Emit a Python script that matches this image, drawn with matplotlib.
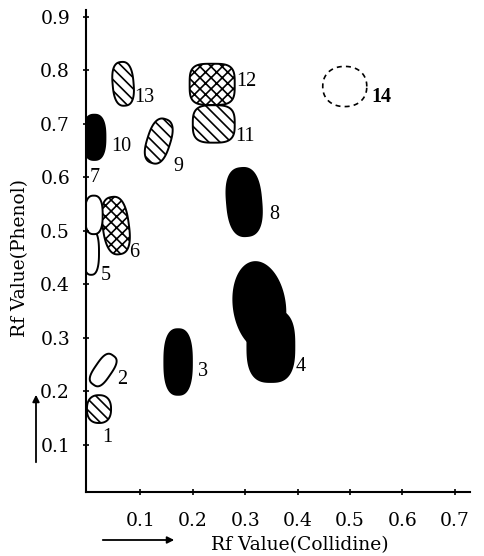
import numpy as np
import matplotlib
matplotlib.use("Agg")
import matplotlib.pyplot as plt
from matplotlib.patches import Polygon, FancyArrowPatch

plt.rcParams['font.family'] = ['DejaVu Serif', 'Liberation Serif']
plt.rcParams['hatch.linewidth'] = 1.2

# ---- data (Rf values) ----
spot_ids = [1, 2, 3, 4, 4, 5, 6, 7, 8, 9, 10, 11, 12, 13, 14]
spot_x = [0.021, 0.029, 0.172, 0.327, 0.349, 0.006, 0.053, 0.011, 0.298, 0.135, 0.012, 0.240, 0.237, 0.067, 0.490]
spot_y = [0.167, 0.240, 0.255, 0.360, 0.285, 0.460, 0.510, 0.530, 0.554, 0.668, 0.675, 0.700, 0.774, 0.775, 0.770]
spot_w = [0.046, 0.032, 0.053, 0.098, 0.090, 0.030, 0.050, 0.034, 0.066, 0.044, 0.043, 0.080, 0.086, 0.040, 0.084]
spot_h = [0.052, 0.066, 0.123, 0.165, 0.135, 0.084, 0.108, 0.072, 0.128, 0.086, 0.085, 0.070, 0.077, 0.082, 0.075]
spot_angle = [0, -35, 0, 8, 0, 0, 8, 0, 5, -18, 0, 0, 0, 5, 0]
spot_shape = [2.4, 3.0, 2.6, 2.0, 2.8, 2.6, 2.6, 2.6, 2.6, 2.6, 2.6, 3.2, 3.6, 2.6, 2.2]
spot_style = ['hatch', 'open', 'solid', 'solid', 'solid', 'open', 'cross', 'open',
              'solid', 'hatch', 'solid', 'hatch', 'cross', 'hatch', 'dashed']

label_text = ['1', '2', '3', '4', '5', '6', '7', '8', '9', '10', '11', '12', '13', '14']
label_x = [0.036, 0.066, 0.220, 0.406, 0.034, 0.088, 0.013, 0.356, 0.172, 0.064, 0.300, 0.302, 0.108, 0.560]
label_y = [0.113, 0.223, 0.238, 0.246, 0.416, 0.459, 0.600, 0.530, 0.621, 0.657, 0.676, 0.780, 0.749, 0.750]
label_weight = ['normal'] * 13 + ['bold']

x_ticks = [0.1, 0.2, 0.3, 0.4, 0.5, 0.6, 0.7]
y_ticks = [0.1, 0.2, 0.3, 0.4, 0.5, 0.6, 0.7, 0.8, 0.9]


def blob(cx, cy, w, h, ang, n=2.6, npts=120):
    t = np.linspace(0, 2 * np.pi, npts, endpoint=False)
    c, s = np.cos(t), np.sin(t)
    px = (w / 2) * np.sign(c) * np.abs(c) ** (2 / n)
    py = (h / 2) * np.sign(s) * np.abs(s) ** (2 / n)
    a = np.deg2rad(ang)
    rx = px * np.cos(a) - py * np.sin(a)
    ry = px * np.sin(a) + py * np.cos(a)
    return np.column_stack([cx + rx, cy + ry])


W, H = 485, 556
fig = plt.figure(figsize=(W / 100, H / 100), dpi=100)
ax = fig.add_axes([86 / W, 1 - 492 / H, (470 - 86) / W, (492 - 10) / H])
ax.set_xlim(-0.0038, 0.729)
ax.set_ylim(0.012, 0.913)

for cx, cy, w, h, ang, n, st in zip(spot_x, spot_y, spot_w, spot_h, spot_angle, spot_shape, spot_style):
    pts = blob(cx, cy, w, h, ang, n)
    if st == 'solid':
        p = Polygon(pts, closed=True, facecolor='black', edgecolor='black', lw=1.2)
    elif st == 'open':
        p = Polygon(pts, closed=True, facecolor='white', edgecolor='black', lw=1.4)
    elif st == 'hatch':
        p = Polygon(pts, closed=True, facecolor='white', edgecolor='black', lw=1.4, hatch='\\\\\\')
    elif st == 'cross':
        p = Polygon(pts, closed=True, facecolor='white', edgecolor='black', lw=1.4, hatch='xxx')
    else:
        p = Polygon(pts, closed=True, facecolor='none', edgecolor='black', lw=1.2, linestyle=(0, (3, 2.5)))
    ax.add_patch(p)

for t, x, y, wt in zip(label_text, label_x, label_y, label_weight):
    ax.text(x, y, t, fontsize=14.5, ha='center', va='center', fontweight=wt,
            family=['Liberation Serif', 'DejaVu Serif'])

ax.spines['top'].set_visible(False)
ax.spines['right'].set_visible(False)
ax.spines['left'].set_linewidth(1.5)
ax.spines['bottom'].set_linewidth(1.5)
ax.set_xticks(x_ticks)
ax.set_yticks(y_ticks)
ax.set_xticklabels([f'{v:.1f}' for v in x_ticks])
ax.set_yticklabels([f'{v:.1f}' for v in y_ticks])
ax.tick_params(axis='both', direction='inout', length=5, width=1.2, labelsize=13.5)
ax.tick_params(axis='x', pad=12)
ax.tick_params(axis='y', pad=9)

fig.text(300 / W, 1 - 545 / H, 'Rf Value(Collidine)', fontsize=13.5, ha='center', va='center')
fig.text(20 / W, 1 - 258 / H, 'Rf Value(Phenol)', fontsize=13.5, ha='center', va='center', rotation=90)

fig.add_artist(FancyArrowPatch((100 / W, 1 - 540 / H), (177 / W, 1 - 540 / H), transform=fig.transFigure,
                               arrowstyle='-|>', mutation_scale=10, lw=1.3, color='black'))
fig.add_artist(FancyArrowPatch((36 / W, 1 - 465 / H), (36 / W, 1 - 392 / H), transform=fig.transFigure,
                               arrowstyle='-|>', mutation_scale=10, lw=1.3, color='black'))

fig.savefig('out.png', dpi=100, facecolor='white')
